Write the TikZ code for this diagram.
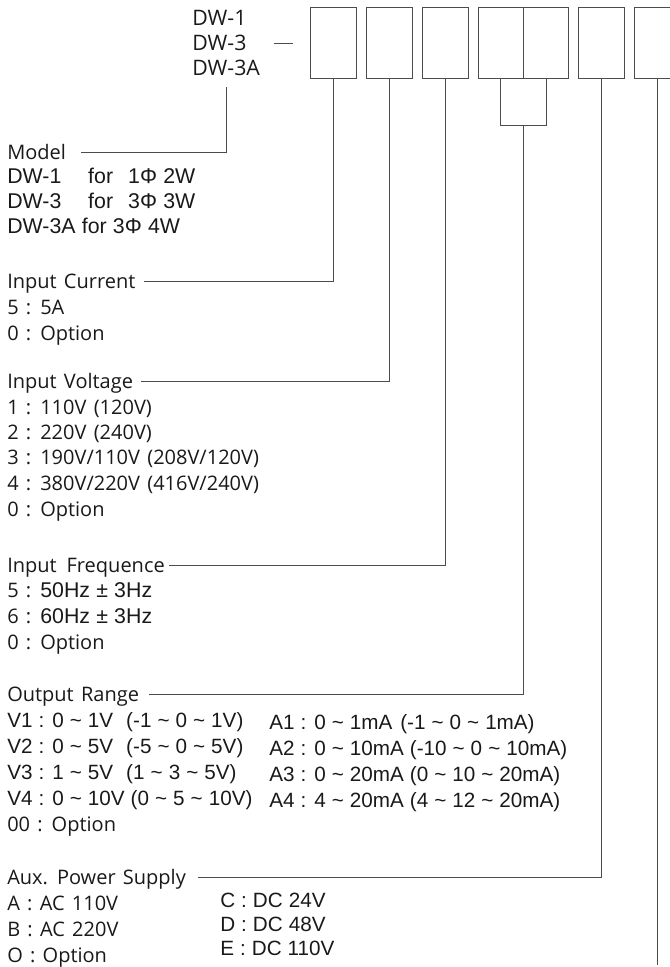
\documentclass[tikz,border=0pt]{standalone}
\usepackage{fontspec}
\setmainfont{Open Sans}[WordSpace=1.4]
\newfontfamily\helv{Liberation Sans}[WordSpace=1.05]
\usetikzlibrary{positioning, calc}
\newcommand{\tildeto}{\textasciitilde}

\begin{document}
\begin{tikzpicture}[
    x=0.75pt, y=-0.75pt,
    node distance=6.75pt,
    slot/.style={rectangle, draw=black!70, line width=0.75pt, minimum width=#1, minimum height=53.25pt, inner sep=0pt},
    slot/.default=34.5pt,
    item/.style={anchor=west, inner sep=0pt, text height=10.5pt, text depth=0pt, font=\fontsize{15}{17}\selectfont, text=black!90},
    itemh/.style={item, font=\helv\fontsize{15.5}{17}\selectfont},
    code/.style={item, font=\fontsize{16}{18}\selectfont}
]
    \tikzset{lead/.style={draw=black!70, line width=0.75pt}}
    \useasboundingbox (0,0) rectangle (669,967);

    % Code boxes
    \node[slot] (b1) at (333,42.5) {};
    \node[slot, right=of b1] (b2) {};
    \node[slot, right=of b2] (b3) {};
    \node[slot=67.5pt, right=of b3] (b4) {};
    \node[slot, right=of b4] (b5) {};
    \node[slot, right=of b5] (b6) {};
    \draw[lead] (b4.north) -- (b4.south);

    % Model names
    \node[code] (dw1) at (192,18) {DW-1};
    \node[code] (dw2) at (192,43) {DW-3};
    \node[code] (dw3) at (192,68) {DW-3A};
    \draw[lead] ([xshift=-27pt]b1.west |- dw2.east) -- ([xshift=-12.75pt]b1.west |- dw2.east);

    % Model
    \node[item] (model) at (7,152) {Model};
    \node[itemh, font=\helv\fontsize{16}{18}\selectfont] (mod1) at (7,176) {\makebox[60.75pt][l]{DW-1}\makebox[30pt][l]{for}1Φ 2W};
    \node[itemh, font=\helv\fontsize{16}{18}\selectfont] (mod2) at (7,201) {\makebox[60.75pt][l]{DW-3}\makebox[30pt][l]{for}3Φ 3W};
    \node[itemh, font=\helv\fontsize{16}{18}\selectfont] (mod3) at (7,226) {DW-3A for 3Φ 4W};

    % Input Current
    \node[item] (cur) at (7,281) {Input Current};
    \node[item] (cur1) at (7,307) {5 : 5A};
    \node[item] (cur2) at (7,333) {0 : Option};

    % Input Voltage
    \node[item] (volt) at (7,381) {Input Voltage};
    \node[item] (volt1) at (7,407) {1 : 110V (120V)};
    \node[item] (volt2) at (7,432) {2 : 220V (240V)};
    \node[item] (volt3) at (7,457) {3 : 190V/110V (208V/120V)};
    \node[item] (volt4) at (7,483) {4 : 380V/220V (416V/240V)};
    \node[item] (volt5) at (7,509) {0 : Option};

    % Input Frequence
    \node[item] (freq) at (7,565) {Input\hspace{2pt} Frequence};
    \node[item] (freq1) at (7,590) {5 : {\helv\fontsize{16}{18}\selectfont 50Hz ± 3Hz}};
    \node[item] (freq2) at (7,616) {6 : {\helv\fontsize{16}{18}\selectfont 60Hz ± 3Hz}};
    \node[item] (freq3) at (7,642) {0 : Option};

    % Output Range
    \node[item] (out) at (7,694) {Output Range};
    \node[itemh] (v1) at (7,720) {\makebox[89.25pt][l]{V1 : 0 \tildeto{} 1V}(-1 \tildeto{} 0 \tildeto{} 1V)};
    \node[itemh] (v2) at (7,746) {\makebox[89.25pt][l]{V2 : 0 \tildeto{} 5V}(-5 \tildeto{} 0 \tildeto{} 5V)};
    \node[itemh] (v3) at (7,772) {\makebox[89.25pt][l]{V3 : 1 \tildeto{} 5V}(1 \tildeto{} 3 \tildeto{} 5V)};
    \node[itemh] (v4) at (7,798) {V4 : 0 \tildeto{} 10V (0 \tildeto{} 5 \tildeto{} 10V)};
    \node[itemh] (a1) at (269,722) {\makebox[98.25pt][l]{A1 : 0 \tildeto{} 1mA}(-1 \tildeto{} 0 \tildeto{} 1mA)};
    \node[itemh] (a2) at (269,748) {A2 : 0 \tildeto{} 10mA (-10 \tildeto{} 0 \tildeto{} 10mA)};
    \node[itemh] (a3) at (269,774) {A3 : 0 \tildeto{} 20mA (0 \tildeto{} 10 \tildeto{} 20mA)};
    \node[itemh] (a4) at (269,800) {A4 : 4 \tildeto{} 20mA (4 \tildeto{} 12 \tildeto{} 20mA)};
    \node[item] (out5) at (7,824) {00 : Option};

    % Aux. Power Supply
    \node[item] (aux) at (7,877) {Aux. Power Supply};
    \node[item] (aux1) at (7,903) {A : AC 110V};
    \node[item] (aux2) at (7,929) {B : AC 220V};
    \node[item] (aux3) at (7,955) {O : Option};
    \node[itemh] (aux4) at (220,900) {C : DC 24V};
    \node[itemh] (aux5) at (220,924) {D : DC 48V};
    \node[itemh] (aux6) at (220,948) {E : DC 110V};

    % Leads
    \draw[lead] ([yshift=-9pt]dw3.south) |- ([xshift=11pt]model.east);
    \draw[lead] (b1.south) |- ([xshift=6pt]cur.east);
    \draw[lead] (b2.south) |- ([xshift=6pt]volt.east);
    \draw[lead] (b3.south) |- ([xshift=3pt]freq.east);
    \coordinate (brk) at ([yshift=-35.25pt]b4.south);
    \draw[lead] ([xshift=-17.25pt]b4.south) |- (brk) -| ([xshift=17.25pt]b4.south);
    \draw[lead] (brk) |- ([xshift=7.5pt]out.east);
    \draw[lead] (b5.south) |- ([xshift=9pt]aux.east);
    \coordinate (tail) at (b6.south |- 0,965);
    \draw[lead] (b6.south) -- (tail);

\end{tikzpicture}
\end{document}
